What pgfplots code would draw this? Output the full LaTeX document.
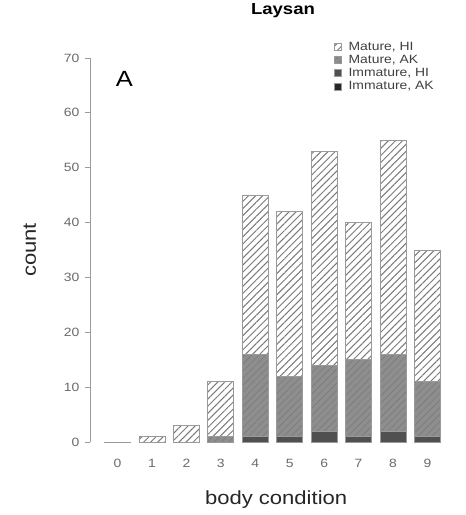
\documentclass[border=0pt]{standalone}
\usepackage{fontspec}
\setmainfont{Liberation Sans}[FakeStretch=1.16]
\usepackage{pgfplots}
\pgfplotsset{compat=1.18}
\usetikzlibrary{patterns.meta}
\definecolor{axgrey}{HTML}{9A9A9A}
\definecolor{txtgrey}{HTML}{6A6A6A}
\definecolor{matak}{HTML}{8E8E8E}
\definecolor{immhi}{HTML}{505050}
\definecolor{immak}{HTML}{262626}
\definecolor{hatch}{HTML}{7A7A7A}

% columns: cond, immature AK, immature HI, mature AK, mature HI
\pgfplotstableread{
cond iak ihi mak mhi
0 0 0 0 0
1 0 0 0 1
2 0 0 0 3
3 0 0 1 10
4 0 1 15 29
5 0 1 11 30
6 0 2 12 39
7 0 1 14 25
8 0 2 14 39
9 0 1 10 24
}\birds

\begin{document}
\begin{tikzpicture}
\begin{axis}[
  scale only axis, width=365pt, height=384pt,
  ybar stacked, bar width=26pt,
  xmin=-0.8, xmax=9.8, ymin=0, ymax=70,
  axis y line=left, axis x line=bottom,
  x axis line style={draw=none},
  y axis line style={-, axgrey, line width=0.8pt},
  ytick={0,10,...,70}, xtick={0,...,9},
  tick align=outside, major tick length=5pt,
  ytick style={axgrey, line width=0.8pt}, xtick style={draw=none},
  /pgf/number format/assume math mode=true,
  tick label style={font=\fontsize{12}{14}\selectfont, text=txtgrey},
  yticklabel style={xshift=-2pt},
  xticklabel style={yshift=-9pt},
  ylabel={count}, xlabel={body condition},
  label style={font=\fontsize{19}{22}\selectfont, text=black!85},
  ylabel style={at={(axis description cs:-0.165,0.5)}, anchor=center},
  xlabel style={at={(axis description cs:0.51,-0.151)}, anchor=center},
  reverse legend, legend cell align=left,
  legend style={at={(rel axis cs:0.668,1.048)}, anchor=north west, draw=none, fill=none,
    font=\fontsize{12}{13}\selectfont, text=black!75, row sep=-0.5pt, inner sep=0pt,
    /tikz/every odd column/.append style={column sep=5pt}},
  legend image code/.code={%
    \draw[#1, line width=0.6pt] (0pt,-3.5pt) rectangle (7pt,3.5pt);},
  clip=false,
]
\addplot[fill=immak, draw=axgrey, line width=0.8pt] table[x=cond,y=iak]{\birds};
\addlegendentry{Immature, AK}
\addplot[fill=immhi, draw=axgrey, line width=0.8pt] table[x=cond,y=ihi]{\birds};
\addlegendentry{Immature, HI}
\addplot[fill=matak, draw=axgrey, line width=0.8pt,
  postaction={pattern={Lines[angle=45,distance=5pt,line width=0.6pt]}, pattern color=black!52}]
  table[x=cond,y=mak]{\birds};
\addlegendentry{Mature, AK}
\addplot[fill=white, draw=axgrey, line width=0.8pt,
  postaction={pattern={Lines[angle=45,distance=5pt,line width=1pt]}, pattern color=hatch}]
  table[x=cond,y=mhi]{\birds};
\addlegendentry{Mature, HI}
\draw[axgrey, line width=0.8pt] (axis cs:-0.38,0) -- (axis cs:0.38,0);
\node[font=\fontsize{22}{26}\selectfont] at (axis cs:0.2,66.2) {A};
\end{axis}
\node[font=\bfseries\fontsize{16}{19}\selectfont] at (193pt,431pt) {Laysan};
\pgfresetboundingbox
\path[use as bounding box] (-90pt,-73pt) rectangle (376pt,442pt);
\end{tikzpicture}
\end{document}
